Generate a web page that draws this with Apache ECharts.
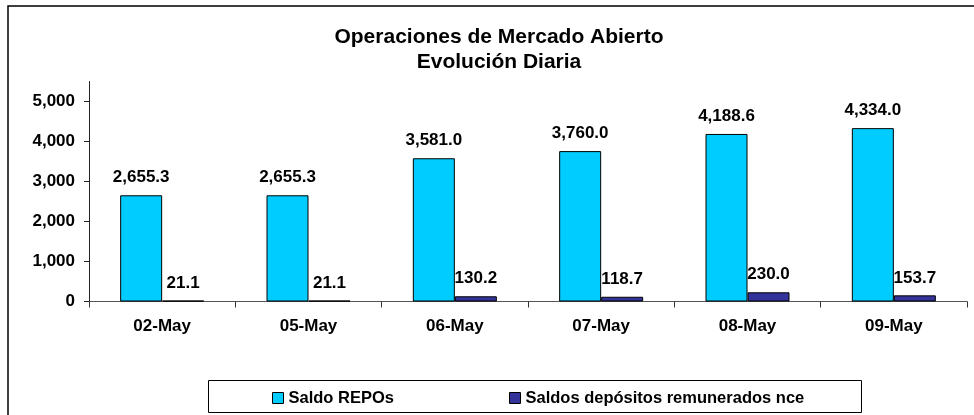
<!DOCTYPE html>
<html>
<head>
<meta charset="utf-8">
<script src="https://cdn.jsdelivr.net/npm/echarts@6/dist/echarts.min.js"></script>
<style>html,body{margin:0;padding:0;background:#fff;}#c{width:974px;height:415px;}</style>
</head>
<body>
<div id="c"></div>
<script>
const categories = ['02-May', '05-May', '06-May', '07-May', '08-May', '09-May'];
const repos = [2655.3, 2655.3, 3581.0, 3760.0, 4188.6, 4334.0];
const depositos = [21.1, 21.1, 130.2, 118.7, 230.0, 153.7];
const yTicks = [0, 1000, 2000, 3000, 4000, 5000];
const seriesNames = ['Saldo REPOs', 'Saldos depósitos remunerados nce'];
const titleLines = ['Operaciones de Mercado Abierto', 'Evolución Diaria'];

const FONT = "'Liberation Sans', Arial, sans-serif";
function fmt(v, d) {
  const s = Number(v).toFixed(d);
  const parts = s.split('.');
  parts[0] = parts[0].replace(/\B(?=(\d{3})+(?!\d))/g, ',');
  return parts.join('.');
}
const labelStyle = {
  show: true, position: 'top', distance: 9,
  fontFamily: FONT, fontWeight: 'bold', fontSize: 17, color: '#000',
  formatter: p => fmt(p.value, 1)
};

const chart = echarts.init(document.getElementById('c'), null, {renderer: 'canvas'});
chart.setOption({
  animation: false,
  backgroundColor: '#fff',
  title: {
    text: titleLines.join('\n'),
    left: 499, top: 25, padding: 0, textAlign: 'center',
    textStyle: {fontFamily: FONT, fontWeight: 'bold', fontSize: 21, lineHeight: 25, color: '#000'}
  },
  graphic: [
    {type: 'rect', z: 0, silent: true, shape: {x: 8, y: 6, width: 990, height: 430},
     style: {fill: 'none', stroke: '#000', lineWidth: 1.5}},
    {type: 'rect', z: 0, silent: true, shape: {x: 208.5, y: 380.5, width: 653, height: 32},
     style: {fill: '#fff', stroke: '#000', lineWidth: 1}}
  ],
  legend: [
    {data: [seriesNames[0]], left: 272, top: 389, padding: 0, itemWidth: 11, itemHeight: 11, icon: 'rect',
     itemStyle: {borderColor: '#000', borderWidth: 1},
     textStyle: {fontFamily: FONT, fontWeight: 'bold', fontSize: 16.5, lineHeight: 18, color: '#000'}},
    {data: [seriesNames[1]], left: 509, top: 389, padding: 0, itemWidth: 11, itemHeight: 11, icon: 'rect',
     itemStyle: {borderColor: '#000', borderWidth: 1},
     textStyle: {fontFamily: FONT, fontWeight: 'bold', fontSize: 16.5, lineHeight: 18, color: '#000'}}
  ],
  grid: {left: 89, top: 81.5, width: 878, height: 220, containLabel: false},
  xAxis: {
    type: 'category', data: categories,
    axisLine: {lineStyle: {color: '#555', width: 1}},
    axisTick: {show: true, length: 6, inside: false, lineStyle: {color: '#333'}},
    axisLabel: {fontFamily: FONT, fontWeight: 'bold', fontSize: 17, color: '#000', margin: 16}
  },
  yAxis: {
    type: 'value', min: 0, max: 5500, interval: 1000,
    splitLine: {show: false},
    axisLine: {show: true, lineStyle: {color: '#222', width: 1}},
    axisTick: {show: true, length: 5, lineStyle: {color: '#222'}, customValues: yTicks},
    axisLabel: {fontFamily: FONT, fontWeight: 'bold', fontSize: 17, color: '#000', margin: 14,
      customValues: yTicks, formatter: v => fmt(v, 0)}
  },
  series: [
    {name: seriesNames[0], type: 'bar', data: repos, barWidth: 42, barGap: '0%',
     itemStyle: {color: '#00CCFF', borderColor: '#000', borderWidth: 1}, label: labelStyle},
    {name: seriesNames[1], type: 'bar', data: depositos, barWidth: 42, barGap: '0%',
     itemStyle: {color: '#333399', borderColor: '#000', borderWidth: 1}, label: labelStyle}
  ]
});
</script>
</body>
</html>
